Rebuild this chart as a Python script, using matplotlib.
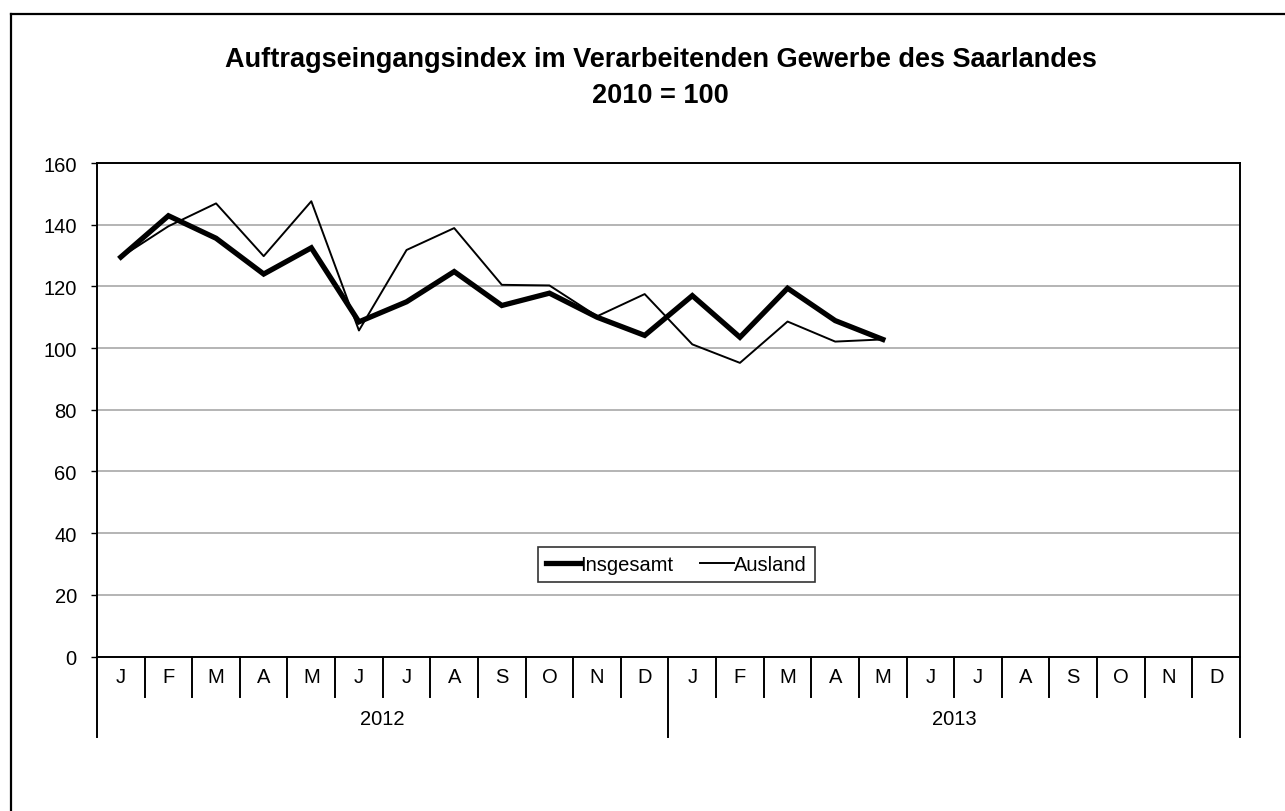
import matplotlib.pyplot as plt
from matplotlib.lines import Line2D
import matplotlib.transforms as mtransforms

plt.rcParams['font.family'] = ['Liberation Sans', 'DejaVu Sans']

months = ['J', 'F', 'M', 'A', 'M', 'J', 'J', 'A', 'S', 'O', 'N', 'D'] * 2
years = ['2012', '2013']
insgesamt = [129.5, 142.9, 135.6, 124.0, 132.5, 108.5, 115.0, 124.8, 113.8, 117.8, 110.0, 104.1,
             117.0, 103.5, 119.4, 108.9, 102.8]
ausland = [129.5, 139.5, 146.9, 129.8, 147.6, 105.7, 131.8, 138.9, 120.5, 120.3, 110.3, 117.5,
           101.2, 95.2, 108.6, 102.1, 102.8]
yticks = [0, 20, 40, 60, 80, 100, 120, 140, 160]

fig = plt.figure(figsize=(12.85, 8.12), dpi=100)
ax = fig.add_axes([97 / 1285, 1 - 657.5 / 812, (1240 - 97) / 1285, (657.5 - 164) / 812])

ax.plot(range(len(insgesamt)), insgesamt, color='black', lw=3.8, label='Insgesamt',
        solid_joinstyle='miter', zorder=4)
ax.plot(range(len(ausland)), ausland, color='black', lw=1.4, label='Ausland', zorder=3)

ax.set_xlim(-0.5, len(months) - 0.5)
ax.set_ylim(0, 160)
ax.set_yticks(yticks)
ax.yaxis.grid(True, color='#a0a0a0', lw=1.1)
ax.set_axisbelow(True)
ax.tick_params(axis='y', direction='out', length=4.5, width=1.0, pad=10, labelsize=14.5)
ax.set_xticks([])
for side in ['left', 'right', 'top', 'bottom']:
    ax.spines[side].set_linewidth(1.4)
    ax.spines[side].set_color('black')

# category axis: month labels + year labels with separators
trans = mtransforms.blended_transform_factory(ax.transData, ax.transAxes)
for i, m in enumerate(months):
    ax.text(i, -0.0415, m, transform=trans, ha='center', va='center', fontsize=14.5)
for i in range(len(months) + 1):
    is_year = i % 12 == 0
    y_end = -0.163 if is_year else -0.082
    ax.add_line(Line2D([i - 0.5, i - 0.5], [0, y_end], transform=trans, color='black',
                       lw=1.4, clip_on=False))
for k, yr in enumerate(years):
    ax.text(k * 12 + 5.5, -0.1265, yr, transform=trans, ha='center', va='center', fontsize=14.5)

leg = ax.legend(loc='center', bbox_to_anchor=(0.507, 0.186), ncol=2, fontsize=14.5,
                frameon=True, fancybox=False, handlelength=1.7, handletextpad=0.0,
                columnspacing=1.3, borderpad=0.4)
leg.get_frame().set_edgecolor('black')
leg.get_frame().set_linewidth(1.2)

fig.text(0.514, 0.926, 'Auftragseingangsindex im Verarbeitenden Gewerbe des Saarlandes',
         ha='center', va='center', fontsize=19.5, fontweight='bold')
fig.text(0.514, 0.882, '2010 = 100', ha='center', va='center', fontsize=19.5, fontweight='bold')

# outer chart frame (left and top edges visible)
fig.add_artist(Line2D([11 / 1285, 11 / 1285], [0, 1 - 15 / 812], transform=fig.transFigure,
                      color='black', lw=1.6))
fig.add_artist(Line2D([11 / 1285, 1], [1 - 15 / 812, 1 - 15 / 812], transform=fig.transFigure,
                      color='black', lw=1.6))

fig.savefig('out.png', dpi=100)
